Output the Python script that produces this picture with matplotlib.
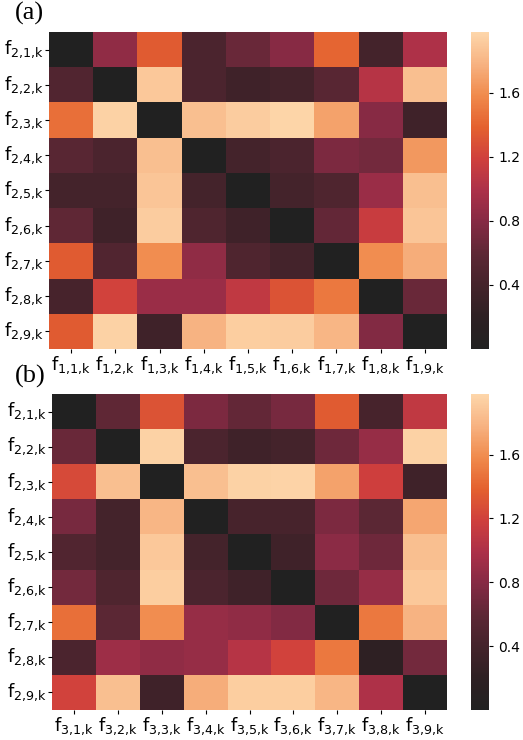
import numpy as np
import matplotlib
matplotlib.use("Agg")
import matplotlib.pyplot as plt
import seaborn as sns
from matplotlib.colors import LinearSegmentedColormap

# rows: f_{2,i,k}; columns: f_{1,j,k} (a) and f_{3,j,k} (b)
vals_a = [
    [0.00, 0.85, 1.35, 0.45, 0.65, 0.80, 1.40, 0.40, 1.00],
    [0.50, 0.00, 1.90, 0.45, 0.35, 0.40, 0.55, 1.05, 1.85],
    [1.45, 1.95, 0.00, 1.85, 1.92, 1.97, 1.70, 0.80, 0.35],
    [0.55, 0.45, 1.85, 0.00, 0.40, 0.45, 0.75, 0.70, 1.65],
    [0.40, 0.40, 1.88, 0.40, 0.00, 0.40, 0.48, 0.90, 1.85],
    [0.60, 0.35, 1.92, 0.48, 0.35, 0.00, 0.62, 1.15, 1.88],
    [1.35, 0.50, 1.60, 0.85, 0.48, 0.40, 0.00, 1.60, 1.75],
    [0.42, 1.20, 0.90, 0.90, 1.10, 1.30, 1.50, 0.00, 0.65],
    [1.35, 1.95, 0.35, 1.78, 1.93, 1.92, 1.80, 0.78, 0.00],
]
vals_b = [
    [0.00, 0.60, 1.30, 0.75, 0.62, 0.72, 1.35, 0.42, 1.10],
    [0.65, 0.00, 1.95, 0.45, 0.35, 0.40, 0.68, 0.88, 1.95],
    [1.25, 1.85, 0.00, 1.85, 1.95, 1.96, 1.70, 1.18, 0.35],
    [0.72, 0.40, 1.80, 0.00, 0.42, 0.42, 0.75, 0.58, 1.72],
    [0.50, 0.40, 1.90, 0.40, 0.00, 0.35, 0.82, 0.68, 1.85],
    [0.70, 0.48, 1.93, 0.45, 0.35, 0.00, 0.68, 0.88, 1.90],
    [1.45, 0.58, 1.60, 0.88, 0.85, 0.78, 0.00, 1.50, 1.78],
    [0.45, 0.92, 0.85, 0.88, 1.05, 1.20, 1.50, 0.20, 0.70],
    [1.20, 1.85, 0.35, 1.75, 1.93, 1.93, 1.80, 1.00, 0.00],
]
row_labels = [r"$\mathregular{f_{2{,}%d{,}k}}$" % i for i in range(1, 10)]
col_labels_a = [r"$\mathregular{f_{1{,}%d{,}k}}$" % i for i in range(1, 10)]
col_labels_b = [r"$\mathregular{f_{3{,}%d{,}k}}$" % i for i in range(1, 10)]
cbar_ticks = [0.4, 0.8, 1.2, 1.6]

# colour ramp
cm_stops = [0.0, 0.1, 0.2, 0.3, 0.4, 0.5, 0.6, 0.7, 0.8, 0.9, 1.0]
cm_cols = ["#212121", "#2E2023", "#44232B", "#5E2735", "#852A44", "#AC3049",
           "#CF3F3D", "#E4612F", "#F08A4C", "#F7B281", "#FDD6AA"]
cmap = LinearSegmentedColormap.from_list("rk", list(zip(cm_stops, cm_cols)))

W, H = 523, 740
fig = plt.figure(figsize=(W / 100, H / 100), dpi=100)

def box(x0, y0, x1, y1):
    return [x0 / W, 1 - y1 / H, (x1 - x0) / W, (y1 - y0) / H]

panels = [
    (vals_a, col_labels_a, box(49, 32, 447, 349), box(471, 32, 489, 349), "(a)", 2),
    (vals_b, col_labels_b, box(52, 394, 447, 710), box(471, 394, 489, 710), "(b)", 365),
]
for vals, xl, axpos, cpos, tag, ty in panels:
    ax = fig.add_axes(axpos)
    cax = fig.add_axes(cpos)
    sns.heatmap(np.array(vals), ax=ax, cbar_ax=cax, cmap=cmap, vmin=0.0, vmax=1.98,
                xticklabels=xl, yticklabels=row_labels,
                cbar_kws={"ticks": cbar_ticks})
    ax.tick_params(axis="both", labelsize=13, length=3, width=0.8, pad=1)
    plt.setp(ax.get_yticklabels(), rotation=0)
    plt.setp(ax.get_xticklabels(), rotation=0)
    cax.tick_params(labelsize=10, length=3, width=0.8)
    cax.set_yticklabels(["0.4", "0.8", "1.2", "1.6"])
    for s in cax.spines.values():
        s.set_visible(False)
    fig.text(15 / W, 1 - ty / H, tag, fontsize=19, family="Liberation Serif",
             va="top", ha="left")

fig.savefig("out.png", dpi=100)
